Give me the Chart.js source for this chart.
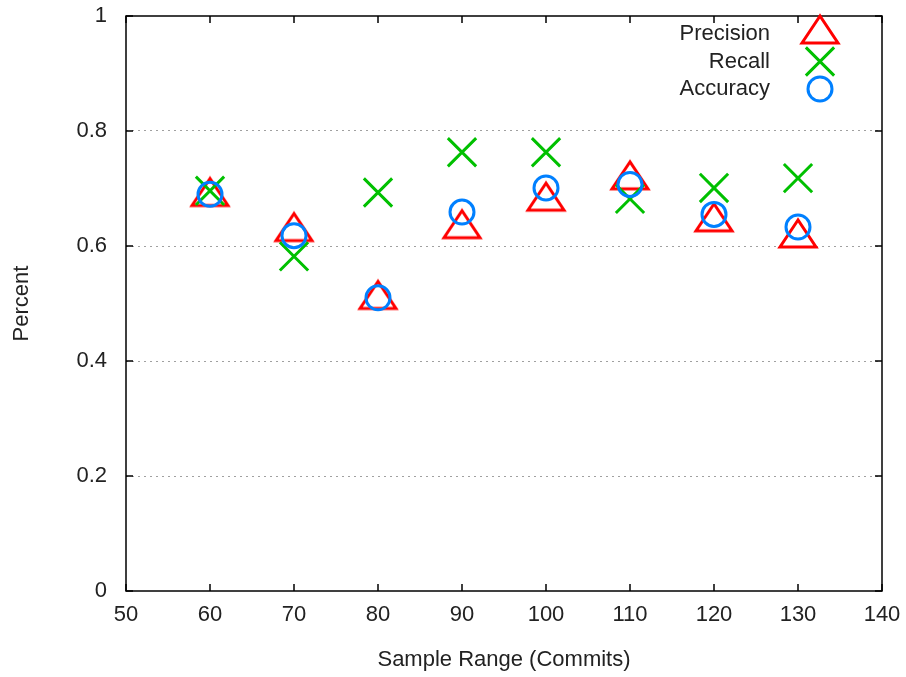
<!DOCTYPE html>
<html>
<head>
<meta charset="utf-8">
<script src="https://cdn.jsdelivr.net/npm/chart.js@4/dist/chart.umd.min.js"></script>
<style>
    html, body { margin: 0; padding: 0; background: #fff; }
    #wrap { width: 906px; height: 677px; }
</style>
</head>
<body>
<div id="wrap"><canvas id="results-chart" width="906" height="677"></canvas></div>
<script>
const sampleRanges = [60, 70, 80, 90, 100, 110, 120, 130];
const precision = [0.686, 0.625, 0.507, 0.630, 0.678, 0.715, 0.642, 0.614];
const recall = [0.696, 0.582, 0.693, 0.763, 0.763, 0.682, 0.701, 0.718];
const accuracy = [0.690, 0.618, 0.510, 0.659, 0.701, 0.707, 0.655, 0.633];
const xTicks = [50, 60, 70, 80, 90, 100, 110, 120, 130, 140];
const yTicks = [0, 0.2, 0.4, 0.6, 0.8, 1];

const FONT = 'Liberation Sans, Arial, sans-serif';
const FONT_SIZE = 22;
const TEXT = '#222';

// gnuplot-style open triangle, the data point sits at the centroid
function makeTriangle(color) {
    const c = document.createElement('canvas');
    c.width = 44;
    c.height = 44;
    const g = c.getContext('2d');
    const h = 13.5;
    g.strokeStyle = color;
    g.lineWidth = 3;
    g.lineJoin = 'miter';
    g.beginPath();
    g.moveTo(22, 22 - 4 * h / 3);
    g.lineTo(22 - 4 * h / 3, 22 + 2 * h / 3);
    g.lineTo(22 + 4 * h / 3, 22 + 2 * h / 3);
    g.closePath();
    g.stroke();
    return c;
}

function toPoints(values) {
    return values.map((v, i) => ({ x: sampleRanges[i], y: v }));
}

const series = [
    { label: 'Precision', data: precision, color: '#ff0000', style: makeTriangle('#ff0000'), radius: 18, order: 3 },
    { label: 'Recall', data: recall, color: '#00c000', style: 'crossRot', radius: 20, order: 2 },
    { label: 'Accuracy', data: accuracy, color: '#0080ff', style: 'circle', radius: 12, order: 1 }
];

// frame with inward ticks on all four sides, plus the key in the top right corner
const framePlugin = {
    id: 'frame',
    afterDatasetsDraw(chart) {
        const ctx = chart.ctx;
        const a = chart.chartArea;
        const xs = chart.scales.x;
        const ys = chart.scales.y;
        ctx.save();
        ctx.strokeStyle = '#000';
        ctx.lineWidth = 1.5;
        ctx.strokeRect(a.left, a.top, a.right - a.left, a.bottom - a.top);
        ctx.beginPath();
        xTicks.forEach(t => {
            const px = xs.getPixelForValue(t);
            ctx.moveTo(px, a.bottom);
            ctx.lineTo(px, a.bottom - 7);
            ctx.moveTo(px, a.top);
            ctx.lineTo(px, a.top + 7);
        });
        yTicks.forEach(t => {
            const py = ys.getPixelForValue(t);
            ctx.moveTo(a.left, py);
            ctx.lineTo(a.left + 7, py);
            ctx.moveTo(a.right, py);
            ctx.lineTo(a.right - 7, py);
        });
        ctx.stroke();

        ctx.font = FONT_SIZE + 'px ' + FONT;
        ctx.fillStyle = TEXT;
        ctx.textAlign = 'right';
        ctx.textBaseline = 'middle';
        series.forEach((s, i) => {
            const y = 34 + i * 27.5;
            ctx.fillText(s.label, 770, y);
            ctx.strokeStyle = s.color;
            ctx.fillStyle = 'rgba(0,0,0,0)';
            ctx.lineWidth = 3;
            Chart.helpers.drawPoint(ctx, { pointStyle: s.style, radius: s.radius, borderWidth: 3, rotation: 0 }, 820, y);
            ctx.fillStyle = TEXT;
        });
        ctx.restore();
    }
};

const tickFont = { family: FONT, size: FONT_SIZE };

const ctx = document.getElementById('results-chart').getContext('2d');
const chart = new Chart(ctx, {
    type: 'scatter',
    data: {
        datasets: series.map(s => ({
            label: s.label,
            data: toPoints(s.data),
            pointStyle: s.style,
            pointRadius: s.radius,
            pointHoverRadius: s.radius,
            pointBorderWidth: 3,
            pointBorderColor: s.color,
            pointBackgroundColor: 'rgba(0,0,0,0)',
            borderColor: s.color,
            order: s.order
        }))
    },
    options: {
        responsive: false,
        animation: false,
        layout: { autoPadding: false, padding: { top: 16, right: 24, left: 0, bottom: 0 } },
        plugins: {
            legend: { display: false },
            tooltip: { enabled: false }
        },
        scales: {
            x: {
                type: 'linear',
                min: 50,
                max: 140,
                afterBuildTicks: scale => { scale.ticks = xTicks.map(v => ({ value: v })); },
                afterFit: scale => {
                    scale.height = 86;
                    scale.paddingLeft = 0;
                    scale.paddingRight = 0;
                },
                grid: { display: false },
                border: { display: false },
                ticks: { color: TEXT, font: tickFont, padding: 3, maxRotation: 0 },
                title: {
                    display: true,
                    text: 'Sample Range (Commits)',
                    color: TEXT,
                    font: tickFont,
                    padding: { top: 0, bottom: 4 }
                }
            },
            y: {
                min: 0,
                max: 1,
                afterBuildTicks: scale => { scale.ticks = yTicks.map(v => ({ value: v })); },
                afterFit: scale => {
                    scale.width = 126;
                    scale.paddingTop = 0;
                    scale.paddingBottom = 0;
                },
                grid: {
                    drawTicks: false,
                    lineWidth: 1,
                    color: c => (c.tick && (c.tick.value === 0 || c.tick.value === 1)) ? 'rgba(0,0,0,0)' : '#a0a0a0'
                },
                border: { display: false, dash: [2, 4] },
                ticks: {
                    color: TEXT,
                    font: tickFont,
                    padding: 19,
                    callback: v => String(v)
                },
                title: {
                    display: true,
                    text: 'Percent',
                    color: TEXT,
                    font: tickFont,
                    padding: { top: 9, bottom: 0 }
                }
            }
        }
    },
    plugins: [framePlugin]
});
</script>
</body>
</html>
